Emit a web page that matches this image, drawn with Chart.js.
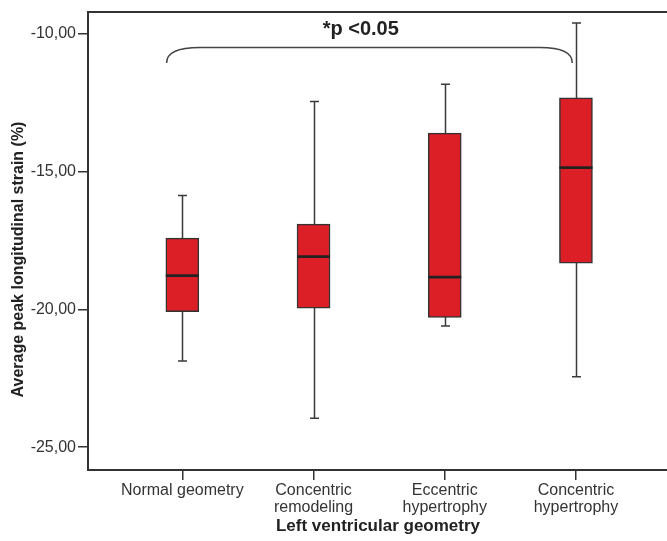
<!DOCTYPE html>
<html>
<head>
<meta charset="utf-8">
<script src="https://cdn.jsdelivr.net/npm/chart.js@4.4.1/dist/chart.umd.min.js"></script>
<style>
  html, body { margin: 0; padding: 0; background: #fff; }
  #wrap { width: 667px; height: 541px; }
</style>
</head>
<body>
<div id="wrap"><canvas id="chart"></canvas></div>
<script>
// categories (positions 1..4 on the x axis)
const categories = [['Normal geometry'], ['Concentric', 'remodeling'], ['Eccentric', 'hypertrophy'], ['Concentric', 'hypertrophy']];
// box plot values
const whiskerLow  = [-21.87, -23.95, -20.60, -22.44];
const q1          = [-20.08, -19.95, -20.29, -18.32];
const medians     = [-18.77, -18.08, -18.83, -14.85];
const q3          = [-17.41, -16.90, -13.60, -12.32];
const whiskerHigh = [-15.86, -12.45, -11.82, -9.60];
const yTicks = [-25, -20, -15, -10];
// significance bracket
const bracketX = [0.88, 1.135, 3.726, 3.972];
const bracketY = [-11.05, -10.49];
const pLabel = '*p <0.05';
const pLabelPos = [2.36, -10.03];

const fontFamily = '"Liberation Sans", Arial, sans-serif';

const boxExtras = {
  id: 'boxExtras',
  beforeDatasetsDraw(chart) {
    const { ctx, scales: { x, y } } = chart;
    ctx.save();
    ctx.strokeStyle = '#3a3a3a';
    ctx.lineWidth = 1.5;
    whiskerLow.forEach((lo, i) => {
      const px = Math.round(x.getPixelForValue(i + 1)) + 0.5;
      const yLo = y.getPixelForValue(lo);
      const yHi = y.getPixelForValue(whiskerHigh[i]);
      ctx.beginPath();
      ctx.moveTo(px, yLo); ctx.lineTo(px, yHi);
      ctx.moveTo(px - 4.5, yLo); ctx.lineTo(px + 4.5, yLo);
      ctx.moveTo(px - 4.5, yHi); ctx.lineTo(px + 4.5, yHi);
      ctx.stroke();
    });
    ctx.restore();
  },
  afterDatasetsDraw(chart) {
    const { ctx, chartArea, scales: { x, y } } = chart;
    ctx.save();
    // medians
    const meta = chart.getDatasetMeta(0);
    ctx.strokeStyle = '#222';
    ctx.lineWidth = 2.8;
    medians.forEach((m, i) => {
      const bar = meta.data[i];
      const half = bar.width / 2;
      const py = y.getPixelForValue(m);
      ctx.beginPath();
      ctx.moveTo(bar.x - half, py); ctx.lineTo(bar.x + half, py);
      ctx.stroke();
    });
    // bracket
    const x0 = x.getPixelForValue(bracketX[0]);
    const x1 = x.getPixelForValue(bracketX[1]);
    const x2 = x.getPixelForValue(bracketX[2]);
    const x3 = x.getPixelForValue(bracketX[3]);
    const yl = y.getPixelForValue(bracketY[0]);
    const yh = y.getPixelForValue(bracketY[1]);
    ctx.strokeStyle = '#444';
    ctx.lineWidth = 1.5;
    ctx.beginPath();
    ctx.moveTo(x0, yl);
    ctx.quadraticCurveTo(x0, yh, x1, yh);
    ctx.lineTo(x2, yh);
    ctx.quadraticCurveTo(x3, yh, x3, yl);
    ctx.stroke();
    // p label
    ctx.fillStyle = '#222';
    ctx.font = 'bold 20px ' + fontFamily;
    ctx.textAlign = 'center';
    ctx.textBaseline = 'alphabetic';
    ctx.fillText(pLabel, x.getPixelForValue(pLabelPos[0]), y.getPixelForValue(pLabelPos[1]));
    // top frame line
    ctx.strokeStyle = '#333';
    ctx.lineWidth = 2;
    ctx.beginPath();
    ctx.moveTo(chartArea.left - 1, chartArea.top);
    ctx.lineTo(chartArea.right, chartArea.top);
    ctx.stroke();
    // axis titles
    ctx.font = 'bold 17px ' + fontFamily;
    ctx.textBaseline = 'middle';
    ctx.fillText('Left ventricular geometry', 378, 526);
    ctx.translate(19, 259.5);
    ctx.rotate(-Math.PI / 2);
    ctx.font = 'bold 16px ' + fontFamily;
    ctx.fillText('Average peak longitudinal strain (%)', 0, 0);
    ctx.restore();
  }
};

const ctx = document.getElementById('chart').getContext('2d');
new Chart(ctx, {
  type: 'bar',
  data: {
    datasets: [
      {
        label: 'Average peak longitudinal strain',
        data: categories.map((c, i) => ({ x: i + 1, y: [q1[i], q3[i]] })),
        backgroundColor: '#dc1f26',
        borderColor: '#333',
        borderWidth: 1.5,
        borderSkipped: false,
        barThickness: 33,
      },
    ],
  },
  options: {
    responsive: true,
    maintainAspectRatio: false,
    animation: false,
    layout: { padding: { top: 12, left: 0, right: 0, bottom: 0 } },
    plugins: {
      legend: { display: false },
      tooltip: { enabled: false },
    },
    scales: {
      x: {
        type: 'linear',
        min: 0.281,
        max: 4.694,
        offset: false,
        afterBuildTicks(scale) { scale.ticks = categories.map((c, i) => ({ value: i + 1 })); },
        afterFit(scale) { scale.height = 71; },
        grid: { offset: false, drawOnChartArea: false, drawTicks: true, tickLength: 10, color: '#333', lineWidth: 1.5 },
        border: { color: '#333', width: 2 },
        ticks: {
          autoSkip: false,
          maxRotation: 0,
          padding: 2,
          color: '#333',
          font: { family: fontFamily, size: 16, lineHeight: 1.05 },
          callback: (v) => categories[Math.round(v) - 1],
        },
      },
      y: {
        min: -25.83,
        max: -9.2,
        afterBuildTicks(scale) { scale.ticks = yTicks.map(v => ({ value: v })); },
        afterFit(scale) { scale.width = 88; },
        grid: { drawOnChartArea: false, drawTicks: true, tickLength: 10, color: '#333', lineWidth: 1.5 },
        border: { color: '#333', width: 2 },
        ticks: {
          padding: 2,
          color: '#333',
          font: { family: fontFamily, size: 16 },
          callback: (v) => v.toFixed(2).replace('.', ','),
        },
      },
    },
  },
  plugins: [boxExtras],
});
</script>
</body>
</html>
